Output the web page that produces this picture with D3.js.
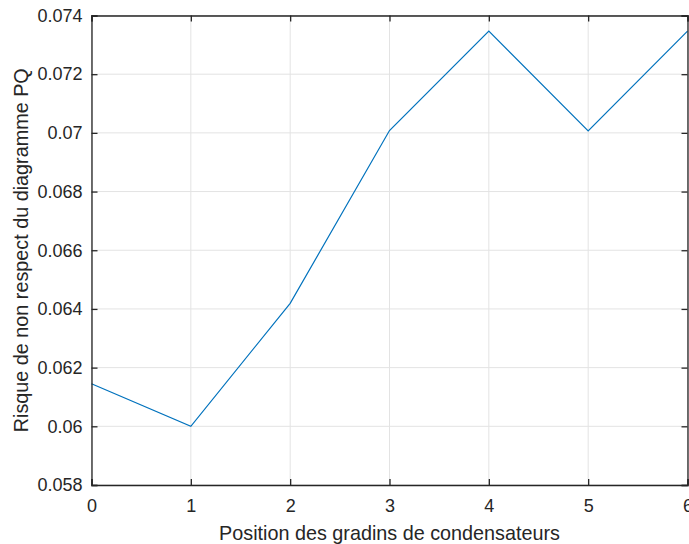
<!DOCTYPE html>
<html>
<head>
<meta charset="utf-8">
<script src="https://cdn.jsdelivr.net/npm/d3@7"></script>
<style>
  html, body { margin: 0; padding: 0; background: #fff; }
  svg { display: block; }
  text { font-family: "Liberation Sans", Arial, Helvetica, sans-serif; fill: #262626; }
</style>
</head>
<body>
<script>
const positions = [0, 1, 2, 3, 4, 5, 6];
const risk = [0.06145, 0.0600, 0.06419, 0.07008, 0.07347, 0.07007, 0.07347];
const xTicks = [0, 1, 2, 3, 4, 5, 6];
const yTicks = [0.058, 0.06, 0.062, 0.064, 0.066, 0.068, 0.07, 0.072, 0.074];
const yTickLabels = ["0.058", "0.06", "0.062", "0.064", "0.066", "0.068", "0.07", "0.072", "0.074"];
const xLabel = "Position des gradins de condensateurs";
const yLabel = "Risque de non respect du diagramme PQ";

const W = 689, H = 544;
const L = 91.5, R = 687.5, T = 15.5, B = 485;

const svg = d3.select("body").append("svg").attr("width", W).attr("height", H);

const x = d3.scaleLinear().domain([0, 6]).range([L, R]);
const y = d3.scaleLinear().domain([0.058, 0.074]).range([B, T]);

// grid
const grid = svg.append("g").attr("stroke", "#e3e3e3").attr("stroke-width", 1);
xTicks.forEach(t => grid.append("line").attr("x1", x(t)).attr("x2", x(t)).attr("y1", T).attr("y2", B));
yTicks.forEach(t => grid.append("line").attr("x1", L).attr("x2", R).attr("y1", y(t)).attr("y2", y(t)));

// line
const line = d3.line().x((d, i) => x(positions[i])).y(d => y(d));
svg.append("path").datum(risk).attr("d", line).attr("fill", "none")
  .attr("stroke", "#0072BD").attr("stroke-width", 1.2);

// axes (ticks inside)
const xAxisB = d3.axisBottom(x).tickValues(xTicks).tickSize(-6).tickPadding(14).tickFormat(d3.format("d"));
const xAxisT = d3.axisTop(x).tickValues(xTicks).tickSize(-6).tickFormat("");
const yAxisL = d3.axisLeft(y).tickValues(yTicks).tickSize(-6).tickPadding(9).tickFormat((d, i) => yTickLabels[i]);
const yAxisR = d3.axisRight(y).tickValues(yTicks).tickSize(-6).tickFormat("");

function style(g) {
  g.selectAll("path").attr("stroke", "#262626").attr("stroke-width", 1.3);
  g.selectAll("line").attr("stroke", "#262626").attr("stroke-width", 1.3);
  g.selectAll("text").attr("fill", "#262626").style("font-size", "18px")
    .style("font-family", '"Liberation Sans", Arial, sans-serif');
}
svg.append("g").attr("transform", `translate(0,${B})`).call(xAxisB).call(style);
svg.append("g").attr("transform", `translate(0,${T})`).call(xAxisT).call(style);
svg.append("g").attr("transform", `translate(${L},0)`).call(yAxisL).call(style);
svg.append("g").attr("transform", `translate(${R},0)`).call(yAxisR).call(style);

// labels
svg.append("text").attr("x", (L + R) / 2).attr("y", 540).attr("text-anchor", "middle")
  .style("font-size", "19.8px").text(xLabel);
svg.append("text").attr("transform", `translate(27.5,${(T + B) / 2}) rotate(-90)`).attr("text-anchor", "middle")
  .style("font-size", "19.8px").text(yLabel);
</script>
</body>
</html>
